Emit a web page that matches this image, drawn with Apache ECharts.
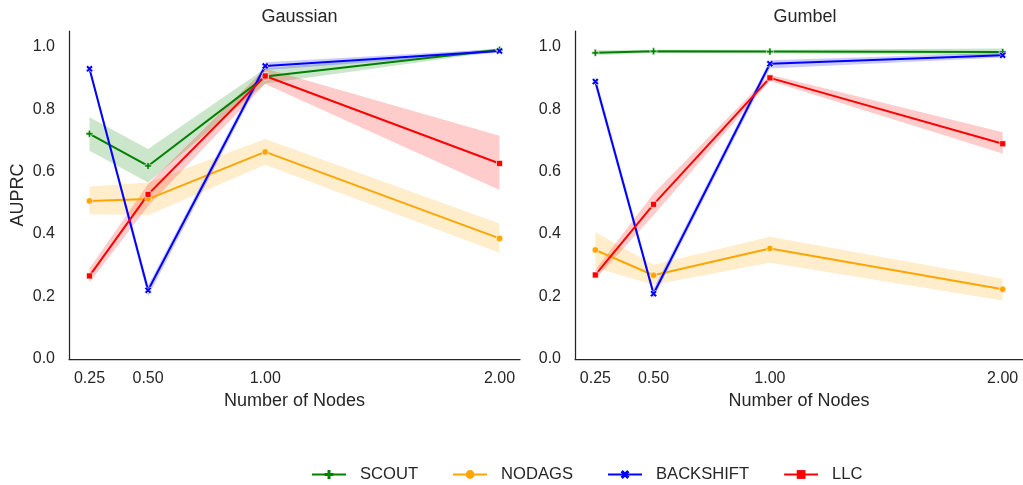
<!DOCTYPE html>
<html>
<head>
<meta charset="utf-8">
<script src="https://cdn.jsdelivr.net/npm/echarts@6/dist/echarts.min.js"></script>
<style>
html,body{margin:0;padding:0;background:#fff;}
#chart{width:1023px;height:485px;}
</style>
</head>
<body>
<div id="chart"></div>
<script>
// ---- data ----
const nodes = [0.25, 0.5, 1.0, 2.0];
const xTicks = [0.25, 0.5, 1.0, 2.0];
const panelTitles = ['Gaussian', 'Gumbel'];
const methods = ['SCOUT', 'NODAGS', 'BACKSHIFT', 'LLC'];

// Gaussian
const gaussScout     = [0.721, 0.618, 0.904, 0.990];
const gaussScoutLo   = [0.667, 0.565, 0.882, 0.985];
const gaussScoutHi   = [0.774, 0.672, 0.930, 0.995];
const gaussNodags    = [0.506, 0.512, 0.663, 0.386];
const gaussNodagsLo  = [0.463, 0.460, 0.622, 0.340];
const gaussNodagsHi  = [0.552, 0.565, 0.704, 0.434];
const gaussBack      = [0.929, 0.220, 0.938, 0.986];
const gaussBackLo    = [0.918, 0.200, 0.925, 0.980];
const gaussBackHi    = [0.940, 0.235, 0.950, 0.992];
const gaussLlc       = [0.266, 0.527, 0.906, 0.626];
const gaussLlcLo     = [0.245, 0.490, 0.880, 0.541];
const gaussLlcHi     = [0.290, 0.560, 0.930, 0.715];

// Gumbel
const gumbScout      = [0.980, 0.985, 0.984, 0.983];
const gumbScoutLo    = [0.972, 0.980, 0.978, 0.972];
const gumbScoutHi    = [0.988, 0.990, 0.990, 0.994];
const gumbNodags     = [0.349, 0.268, 0.354, 0.223];
const gumbNodagsLo   = [0.292, 0.238, 0.308, 0.187];
const gumbNodagsHi   = [0.406, 0.302, 0.391, 0.257];
const gumbBack       = [0.888, 0.209, 0.945, 0.972];
const gumbBackLo     = [0.870, 0.195, 0.930, 0.965];
const gumbBackHi     = [0.905, 0.225, 0.956, 0.980];
const gumbLlc        = [0.269, 0.495, 0.900, 0.689];
const gumbLlcLo      = [0.255, 0.460, 0.890, 0.658];
const gumbLlcHi      = [0.285, 0.530, 0.910, 0.726];

// ---- styles ----
const FONT = '"Liberation Sans", Arial, sans-serif';
const TXT = '#262626';
const colors = {SCOUT:'#008000', NODAGS:'#FFA500', BACKSHIFT:'#0000FF', LLC:'#FF0000'};
const bandColors = {SCOUT:'rgba(0,128,0,0.2)', NODAGS:'rgba(255,165,0,0.2)', BACKSHIFT:'rgba(0,0,255,0.2)', LLC:'rgba(255,0,0,0.2)'};
const PLUS = 'path://M-1,-3H1V-1H3V1H1V3H-1V1H-3V-1H-1Z';
const XMARK = 'path://M2,-4L4,-2L2,0L4,2L2,4L0,2L-2,4L-4,2L-2,0L-4,-2L-2,-4L0,-2Z';
const symbols = {SCOUT:PLUS, NODAGS:'circle', BACKSHIFT:XMARK, LLC:'rect'};
const symSizes = {SCOUT:7, NODAGS:6.5, BACKSHIFT:7, LLC:6};

const panels = [
  {SCOUT:[gaussScout,gaussScoutLo,gaussScoutHi], NODAGS:[gaussNodags,gaussNodagsLo,gaussNodagsHi],
   BACKSHIFT:[gaussBack,gaussBackLo,gaussBackHi], LLC:[gaussLlc,gaussLlcLo,gaussLlcHi]},
  {SCOUT:[gumbScout,gumbScoutLo,gumbScoutHi], NODAGS:[gumbNodags,gumbNodagsLo,gumbNodagsHi],
   BACKSHIFT:[gumbBack,gumbBackLo,gumbBackHi], LLC:[gumbLlc,gumbLlcLo,gumbLlcHi]}
];

function bandSeries(p, name, lo, hi) {
  return {
    type: 'custom', name: name + ' band', xAxisIndex: p, yAxisIndex: p, silent: true, z: 1,
    data: nodes.map((x, i) => [x, lo[i], hi[i]]),
    encode: {x: 0, y: [1, 2]},
    renderItem: function (params, api) {
      if (params.dataIndex !== 0) return null;
      const pts = [];
      for (let i = 0; i < nodes.length; i++) pts.push(api.coord([nodes[i], hi[i]]));
      for (let i = nodes.length - 1; i >= 0; i--) pts.push(api.coord([nodes[i], lo[i]]));
      return {type: 'polygon', shape: {points: pts}, style: {fill: bandColors[name], stroke: null}};
    }
  };
}
function lineSeries(p, name, mean) {
  return {
    type: 'line', name: name, xAxisIndex: p, yAxisIndex: p, z: 3,
    data: nodes.map((x, i) => [x, mean[i]]),
    symbol: symbols[name], symbolSize: symSizes[name], showSymbol: true,
    itemStyle: {color: colors[name], borderColor: '#fff', borderWidth: 0.6},
    lineStyle: {color: colors[name], width: 2},
    emphasis: {disabled: true}, animation: false
  };
}

const series = [];
for (let p = 0; p < 2; p++) {
  methods.forEach(m => { const d = panels[p][m]; series.push(bandSeries(p, m, d[1], d[2])); });
}
for (let p = 0; p < 2; p++) {
  methods.forEach(m => { series.push(lineSeries(p, m, panels[p][m][0])); });
}

function xAxis(gi) {
  return {
    type: 'value', gridIndex: gi, min: 0.1625, max: 2.0875,
    name: 'Number of Nodes', nameLocation: 'middle', nameGap: 31,
    nameTextStyle: {fontFamily: FONT, fontSize: 18, color: TXT},
    axisLine: {show: true, onZero: false, lineStyle: {color: TXT, width: 1.25}},
    axisTick: {show: false}, splitLine: {show: false},
    axisLabel: {customValues: xTicks, margin: 12, fontFamily: FONT, fontSize: 16, color: TXT,
      formatter: v => v.toFixed(2)}
  };
}
function yAxis(gi) {
  return {
    type: 'value', gridIndex: gi, min: 0, max: 1.05, interval: 0.2,
    name: gi === 0 ? 'AUPRC' : '', nameLocation: 'middle', nameGap: 42,
    nameTextStyle: {fontFamily: FONT, fontSize: 18, color: TXT},
    axisLine: {show: true, lineStyle: {color: TXT, width: 1.25}},
    axisTick: {show: false}, splitLine: {show: false},
    axisLabel: {margin: 14, fontFamily: FONT, fontSize: 16, color: TXT, showMaxLabel: false,
      formatter: v => (Math.abs(v * 5 - Math.round(v * 5)) < 1e-6 ? v.toFixed(1) : '')}
  };
}

const chart = echarts.init(document.getElementById('chart'), null, {renderer: 'canvas'});
chart.setOption({
  backgroundColor: '#ffffff',
  animation: false,
  title: [
    {text: panelTitles[0], left: 294.5, top: 3, textAlign: 'center',
     textStyle: {fontFamily: FONT, fontSize: 18, fontWeight: 'normal', color: TXT}},
    {text: panelTitles[1], left: 800, top: 3, textAlign: 'center',
     textStyle: {fontFamily: FONT, fontSize: 18, fontWeight: 'normal', color: TXT}}
  ],
  grid: [
    {left: 69, right: 503, top: 31, bottom: 126, containLabel: false},
    {left: 575, right: -2, top: 31, bottom: 126, containLabel: false}
  ],
  xAxis: [xAxis(0), xAxis(1)],
  yAxis: [yAxis(0), yAxis(1)],
  legend: {
    data: methods, left: 306, top: 461, itemWidth: 34, itemHeight: 11, itemGap: 34,
    itemStyle: {borderWidth: 0},
    textStyle: {fontFamily: FONT, fontSize: 16.6, color: TXT, padding: [0, 0, 0, 9]},
    selectedMode: false
  },
  series: series
});
</script>
</body>
</html>
